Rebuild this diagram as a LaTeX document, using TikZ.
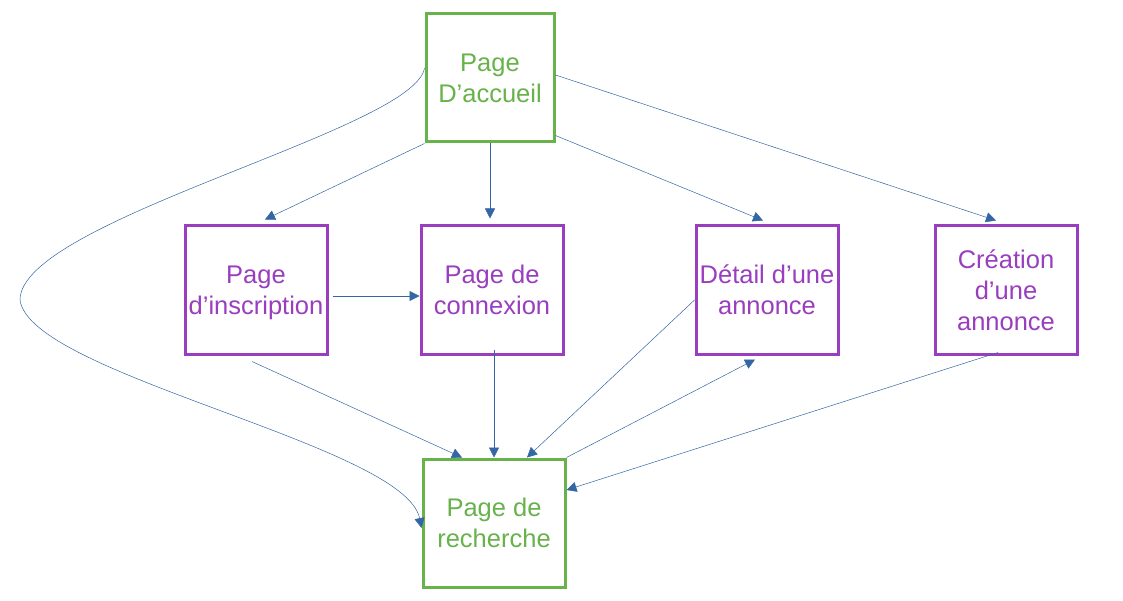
\documentclass[tikz,border=0pt]{standalone}
\usepackage{fontspec}
\setmainfont{Liberation Sans}
\usetikzlibrary{arrows.meta}
\definecolor{pagegreen}{RGB}{104,178,76}
\definecolor{pagepurple}{RGB}{153,62,190}
\definecolor{linkblue}{RGB}{52,101,164}
\tikzset{
  pagebox/.style={draw, line width=3pt, fill=white, align=center, inner sep=0pt,
    font=\fontsize{25.5}{31}\selectfont},
  mainpage/.style={pagebox, draw=pagegreen, text=pagegreen},
  subpage/.style={pagebox, draw=pagepurple, text=pagepurple},
  link/.style={draw=linkblue, line width=0.5pt, -{Triangle[length=10pt,width=10pt]}}
}
\begin{document}
\begin{tikzpicture}[x=1pt, y=-1pt]
  \useasboundingbox (0,0) rectangle (1123,601);
  % pages
  \node[mainpage, minimum width=128pt, minimum height=128pt] (acc) at (490,78) {Page\\D’accueil};
  \node[subpage, minimum width=142pt, minimum height=128pt] (insc) at (256,290) {Page\\\smash{d’inscription}};
  \node[subpage, minimum width=142pt, minimum height=128pt] (conn) at (492,290) {Page de\\connexion};
  \node[subpage, minimum width=142pt, minimum height=128pt] (det) at (767,290) {Détail d’une\\annonce};
  \node[subpage, minimum width=142pt, minimum height=128pt] (cre) at (1006,290) {Création\\d’une\\annonce};
  \node[mainpage, minimum width=142pt, minimum height=128pt] (rech) at (494,523) {Page de\\recherche};
  % links from the home page
  \draw[link] (acc.south west) -- ([xshift=9pt,yshift=5pt]insc.north);
  \draw[link, shorten >=6pt] (acc.south) -- (acc.south |- conn.north);
  \draw[link] ([yshift=8pt]acc.south east) -- ([xshift=-4pt,yshift=4pt]det.north);
  \draw[link] ([yshift=3pt]acc.east) -- ([xshift=-10pt,yshift=4pt]cre.north);
  \draw[link] ([yshift=10pt]acc.west) .. controls (415,130) and (20,220) .. (20,300)
    .. controls (30,375) and (405,445) .. ([yshift=-5pt]rech.west);
  % links between pages
  \draw[link] ([xshift=4pt,yshift=-6pt]insc.east) -- ([yshift=-6pt]conn.west);
  \draw[link] ([xshift=-4pt,yshift=-6pt]insc.south) -- ([xshift=-32pt]rech.north);
  \draw[link] ([xshift=2pt,yshift=6pt]conn.south) -- (rech.north);
  \draw[link] ([yshift=-10pt]det.west) -- ([xshift=33pt]rech.north);
  \draw[link] (rech.north east) -- ([xshift=-12pt,yshift=-4pt]det.south);
  \draw[link] ([xshift=-8pt,yshift=3pt]cre.south) -- ([yshift=33pt]rech.east);
\end{tikzpicture}
\end{document}
